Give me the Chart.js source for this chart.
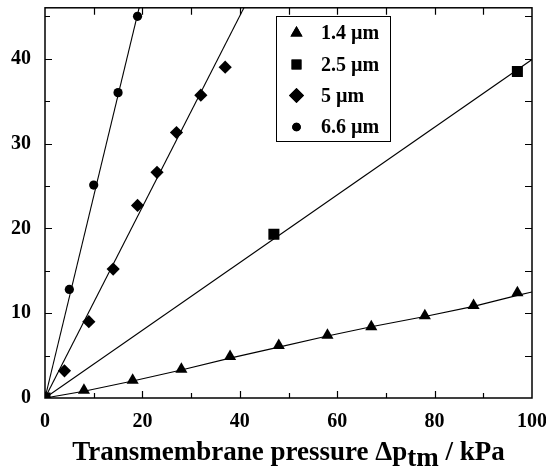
<!DOCTYPE html>
<html>
<head>
<meta charset="utf-8">
<script src="https://cdn.jsdelivr.net/npm/chart.js@4/dist/chart.umd.min.js"></script>
<style>
  body { margin: 0; background: #fff; }
  #wrap { position: relative; width: 546px; height: 472px; }
  #xTitle {
    position: absolute; left: 45px; width: 487px; top: 436px; text-align: center;
    font: bold 27px "Liberation Serif", "Times New Roman", serif; color: #000; white-space: nowrap;
  }
  #xTitle sub { font-size: 27px; vertical-align: -6px; line-height: 0; }
</style>
</head>
<body>
<div id="wrap">
  <canvas id="chart" width="546" height="472"></canvas>
  <div id="xTitle">Transmembrane pressure Δp<sub>tm</sub> / kPa</div>
</div>
<script>
// Dados (pressão em kPa)
const seriesNames = ['1.4 µm', '2.5 µm', '5 µm', '6.6 µm'];

const xTri = [0, 8, 18, 28, 38, 48, 58, 67, 78, 88, 97];
const yTri = [0, 0.9, 2.1, 3.4, 4.9, 6.2, 7.4, 8.4, 9.7, 10.9, 12.4];

const xSq = [0, 47, 97];
const ySq = [0, 19.3, 38.5];

const xDia = [0, 4, 9, 14, 19, 23, 27, 32, 37];
const yDia = [0, 3.2, 9.0, 15.2, 22.7, 26.6, 31.3, 35.7, 39.0];

const xCir = [0, 5, 10, 15, 19];
const yCir = [0, 12.8, 25.1, 36.0, 45.0];

// linhas de ajuste
const xFit14 = [0, 8, 18, 28, 38, 48, 58, 67, 78, 88, 97, 100];
const yFit14 = [0, 0.8, 2.0, 3.3, 4.7, 6.0, 7.3, 8.4, 9.6, 10.8, 12.1, 12.5];
const xFit25 = [0, 100];
const yFit25 = [0, 39.9];
const xFit5 = [0, 42];
const yFit5 = [0, 47.3];
const xFit66 = [0, 20];
const yFit66 = [0, 47.6];

const xTicks = [0, 20, 40, 60, 80, 100];
const yTicks = [0, 10, 20, 30, 40];

const toPts = (xs, ys) => xs.map((x, i) => ({ x: x, y: ys[i] }));

const markerStyles = ['triangle', 'rect', 'rectRot', 'circle'];
const markerRadius = [7, 7.8, 6.6, 4.6];

function fitLine(xs, ys) {
    return {
        data: toPts(xs, ys),
        showLine: true,
        borderColor: '#000',
        borderWidth: 1.1,
        pointRadius: 0,
        fill: false,
        tension: 0
    };
}

function markers(xs, ys, i) {
    return {
        label: seriesNames[i],
        data: toPts(xs, ys),
        showLine: false,
        pointStyle: markerStyles[i],
        pointRadius: markerRadius[i],
        pointBackgroundColor: '#000',
        pointBorderColor: '#000',
        pointBorderWidth: 0
    };
}

// molduras e ticks para dentro
const framePlugin = {
    id: 'frame',
    afterDraw(chart) {
        const ctx = chart.ctx;
        const a = chart.chartArea;
        const xs = chart.scales.x, ys = chart.scales.y;
        ctx.save();
        ctx.strokeStyle = '#000';
        ctx.lineWidth = 1.5;
        ctx.strokeRect(a.left, a.top, a.right - a.left, a.bottom - a.top);
        ctx.lineWidth = 1.2;
        ctx.beginPath();
        for (let v = 10; v < 100; v += 10) {
            const px = Math.round(xs.getPixelForValue(v)) + 0.5;
            const len = v % 20 === 0 ? 7 : 5;
            ctx.moveTo(px, a.bottom); ctx.lineTo(px, a.bottom - len);
            ctx.moveTo(px, a.top); ctx.lineTo(px, a.top + 7);
        }
        for (let v = 5; v <= 45; v += 5) {
            const py = Math.round(ys.getPixelForValue(v)) + 0.5;
            const len = v % 10 === 0 ? 7 : 5;
            ctx.moveTo(a.left, py); ctx.lineTo(a.left + len, py);
            ctx.moveTo(a.right, py); ctx.lineTo(a.right - 7, py);
        }
        ctx.stroke();
        ctx.restore();
    }
};

// legenda dentro da área do gráfico
const legendPlugin = {
    id: 'boxLegend',
    afterDraw(chart) {
        const ctx = chart.ctx;
        const boxX = 276.5, boxY = 16.5, boxW = 114, boxH = 125;
        ctx.save();
        ctx.fillStyle = '#fff';
        ctx.fillRect(boxX, boxY, boxW, boxH);
        ctx.strokeStyle = '#000';
        ctx.lineWidth = 1;
        ctx.strokeRect(boxX, boxY, boxW, boxH);
        const rowY = [33, 64.5, 95.5, 127];
        const legendRadius = [7, 7, 7.5, 4.3];
        ctx.fillStyle = '#000';
        seriesNames.forEach((name, i) => {
            Chart.helpers.drawPoint(ctx, {
                pointStyle: markerStyles[i],
                radius: legendRadius[i],
                borderWidth: 0,
                rotation: 0
            }, 296.5, rowY[i]);
            ctx.fill();
            ctx.font = 'bold 20px "Liberation Serif", "Times New Roman", serif';
            ctx.textBaseline = 'middle';
            ctx.textAlign = 'left';
            ctx.fillText(name, 321, rowY[i] + 1);
        });
        ctx.restore();
    }
};

const tickFont = { family: '"Liberation Serif", "Times New Roman", serif', size: 20, weight: 'bold' };

new Chart(document.getElementById('chart'), {
    type: 'scatter',
    data: {
        datasets: [
            fitLine(xFit14, yFit14),
            fitLine(xFit25, yFit25),
            fitLine(xFit5, yFit5),
            fitLine(xFit66, yFit66),
            markers(xTri, yTri, 0),
            markers(xSq, ySq, 1),
            markers(xDia, yDia, 2),
            markers(xCir, yCir, 3)
        ]
    },
    options: {
        responsive: false,
        animation: false,
        layout: { padding: { top: 7, right: 14, left: 0, bottom: 0 } },
        plugins: { legend: { display: false }, tooltip: { enabled: false } },
        scales: {
            x: {
                type: 'linear', min: 0, max: 100,
                grid: { display: false, drawTicks: false }, border: { display: false },
                afterBuildTicks: s => { s.ticks = xTicks.map(v => ({ value: v })); },
                afterFit: s => { s.height = 74; s.paddingLeft = 0; s.paddingRight = 0; },
                ticks: { font: tickFont, color: '#000', padding: 12, maxRotation: 0 }
            },
            y: {
                type: 'linear', min: 0, max: 46,
                grid: { display: false, drawTicks: false }, border: { display: false },
                afterBuildTicks: s => { s.ticks = yTicks.map(v => ({ value: v })); },
                afterFit: s => { s.width = 45; s.paddingTop = 0; s.paddingBottom = 0; },
                ticks: { font: tickFont, color: '#000', padding: 14 }
            }
        }
    },
    plugins: [framePlugin, legendPlugin]
});
</script>
</body>
</html>
